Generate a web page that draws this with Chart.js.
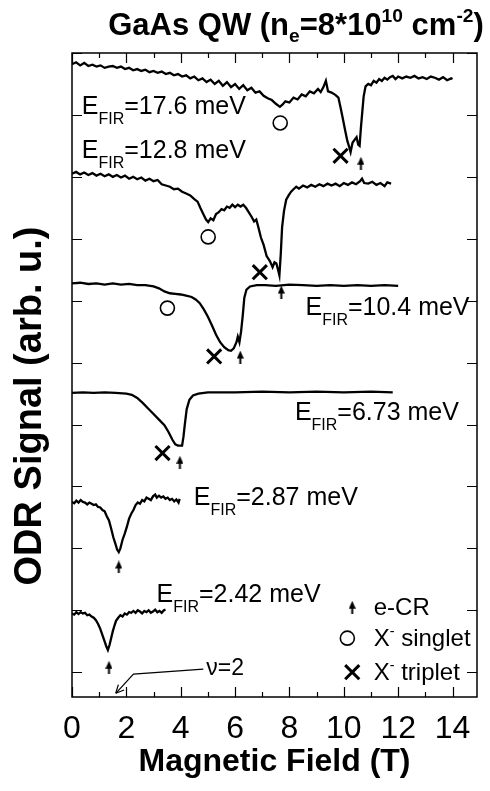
<!doctype html>
<html><head><meta charset="utf-8">
<script src="https://cdn.jsdelivr.net/npm/chart.js@4.4.1/dist/chart.umd.min.js"></script>
<style>html,body{margin:0;background:#fff}</style>
</head><body>
<canvas id="c" width="490" height="791"></canvas>
<script>
// ODR traces, one pair of arrays per FIR energy (field in T, signal in arb. u. with offsets)
const fieldA = [0.00,0.15,0.30,0.45,0.60,0.75,0.90,1.05,1.20,1.35,1.50,1.65,1.80,1.95,2.10,2.25,2.40,2.55,2.70,2.85,3.00,3.15,3.30,3.45,3.60,3.75,3.90,4.05,4.20,4.35,4.50,4.65,4.80,4.95,5.10,5.25,5.40,5.55,5.70,5.85,6.00,6.15,6.30,6.45,6.60,6.75,6.90,7.05,7.20,7.35,7.50,7.65,7.75,7.85,8.00,8.15,8.30,8.45,8.60,8.75,8.90,9.05,9.15,9.25,9.34,9.42,9.55,9.70,9.80,9.88,9.95,10.05,10.13,10.20,10.25,10.32,10.40,10.47,10.53,10.58,10.63,10.68,10.73,10.80,10.90,11.00,11.10,11.20,11.30,11.40,11.50,11.60,11.70,11.80,11.90,12.00,12.15,12.30,12.45,12.60,12.75,12.90,13.05,13.20,13.35,13.50,13.65,13.80,13.95,14.00];
const odrA   = [9.82,9.85,9.80,9.84,9.79,9.81,9.78,9.80,9.76,9.78,9.79,9.76,9.78,9.74,9.76,9.72,9.74,9.71,9.73,9.69,9.71,9.68,9.70,9.66,9.68,9.64,9.66,9.62,9.64,9.59,9.62,9.56,9.59,9.53,9.57,9.50,9.55,9.47,9.53,9.45,9.50,9.42,9.48,9.40,9.44,9.36,9.38,9.31,9.27,9.24,9.18,9.13,9.17,9.22,9.20,9.28,9.25,9.33,9.30,9.38,9.35,9.42,9.37,9.45,9.55,9.38,9.36,9.32,9.28,9.12,8.97,8.75,8.58,8.48,8.40,8.55,8.60,8.64,8.52,8.50,8.80,9.05,9.30,9.46,9.50,9.48,9.55,9.52,9.58,9.55,9.60,9.57,9.61,9.63,9.58,9.62,9.59,9.62,9.60,9.63,9.59,9.61,9.58,9.62,9.60,9.57,9.61,9.56,9.59,9.58];

const fieldB = [0.00,0.15,0.30,0.45,0.60,0.75,0.90,1.05,1.20,1.35,1.50,1.65,1.80,1.95,2.10,2.25,2.40,2.55,2.70,2.85,3.00,3.15,3.30,3.45,3.60,3.75,3.90,4.05,4.20,4.35,4.50,4.62,4.72,4.83,4.93,5.01,5.10,5.20,5.30,5.40,5.50,5.60,5.70,5.80,5.90,6.00,6.10,6.20,6.30,6.40,6.50,6.60,6.70,6.78,6.86,6.95,7.05,7.16,7.28,7.38,7.45,7.52,7.58,7.63,7.68,7.73,7.80,7.88,7.97,8.06,8.15,8.25,8.35,8.50,8.65,8.80,8.95,9.10,9.25,9.40,9.55,9.70,9.85,10.00,10.15,10.30,10.45,10.60,10.67,10.75,10.90,11.05,11.20,11.35,11.50,11.60,11.74];
const odrB   = [8.05,8.08,8.04,8.07,8.03,8.06,8.02,8.05,8.01,8.04,8.00,8.03,7.99,8.02,7.97,8.00,7.96,7.99,7.94,7.97,7.93,7.95,7.88,7.86,7.84,7.80,7.81,7.76,7.73,7.70,7.64,7.60,7.50,7.40,7.31,7.27,7.33,7.30,7.40,7.43,7.48,7.46,7.52,7.50,7.55,7.51,7.55,7.52,7.55,7.50,7.43,7.36,7.28,7.31,7.18,7.02,6.90,6.72,6.64,6.54,6.62,6.60,6.50,6.41,6.75,7.19,7.45,7.63,7.70,7.76,7.80,7.84,7.81,7.86,7.83,7.87,7.84,7.88,7.85,7.89,7.86,7.89,7.85,7.90,7.87,7.91,7.88,7.93,7.97,7.90,7.89,7.92,7.87,7.90,7.85,7.91,7.89];

const fieldC = [0.00,0.30,0.60,0.90,1.20,1.50,1.80,2.10,2.40,2.70,3.00,3.20,3.40,3.60,3.80,4.00,4.20,4.40,4.55,4.70,4.85,5.00,5.15,5.30,5.45,5.60,5.75,5.85,5.95,6.05,6.10,6.16,6.22,6.28,6.34,6.42,6.55,6.80,7.10,7.50,8.00,8.50,9.00,9.50,10.00,10.50,11.00,11.50,12.00];
const odrC   = [6.28,6.29,6.27,6.28,6.26,6.28,6.26,6.27,6.25,6.25,6.23,6.20,6.15,6.12,6.11,6.10,6.08,6.06,6.02,5.96,5.86,5.74,5.60,5.45,5.33,5.25,5.20,5.19,5.23,5.33,5.42,5.33,5.50,5.75,6.05,6.18,6.23,6.25,6.25,6.24,6.26,6.25,6.24,6.25,6.24,6.25,6.24,6.25,6.24];

const fieldD = [0.00,0.40,0.80,1.20,1.60,2.00,2.20,2.40,2.60,2.80,3.00,3.20,3.40,3.55,3.70,3.80,3.90,4.05,4.10,4.15,4.22,4.32,4.45,4.65,5.00,6.00,7.00,8.00,9.00,10.00,11.00,11.80];
const odrD   = [4.51,4.52,4.51,4.52,4.51,4.50,4.48,4.43,4.35,4.26,4.17,4.08,3.99,3.88,3.75,3.68,3.66,3.66,3.80,4.00,4.25,4.40,4.47,4.50,4.52,4.52,4.53,4.52,4.53,4.52,4.53,4.52];

const fieldE = [0.00,0.08,0.16,0.24,0.32,0.40,0.48,0.56,0.64,0.72,0.80,0.88,0.96,1.04,1.12,1.20,1.28,1.36,1.44,1.52,1.60,1.66,1.72,1.78,1.86,1.94,2.02,2.10,2.18,2.26,2.34,2.42,2.50,2.58,2.66,2.74,2.82,2.90,2.98,3.06,3.12,3.20,3.28,3.36,3.44,3.52,3.60,3.68,3.76,3.84,3.92,3.96];
const odrE   = [2.75,2.73,2.77,2.74,2.78,2.75,2.74,2.71,2.74,2.72,2.70,2.71,2.67,2.66,2.62,2.60,2.52,2.45,2.32,2.18,2.07,1.98,1.94,2.00,2.14,2.24,2.35,2.48,2.56,2.62,2.70,2.74,2.72,2.78,2.76,2.82,2.80,2.78,2.84,2.87,2.82,2.85,2.82,2.84,2.80,2.82,2.78,2.80,2.76,2.79,2.74,2.80];

const fieldF = [0.00,0.08,0.16,0.24,0.32,0.40,0.48,0.56,0.64,0.72,0.80,0.88,0.96,1.04,1.12,1.20,1.26,1.32,1.38,1.44,1.50,1.56,1.62,1.70,1.78,1.86,1.94,2.02,2.10,2.18,2.26,2.34,2.42,2.50,2.58,2.66,2.74,2.82,2.90,2.98,3.06,3.14,3.22,3.30,3.38,3.44];
const odrF   = [0.95,0.93,0.97,0.94,0.97,0.95,0.96,0.92,0.93,0.90,0.88,0.84,0.78,0.70,0.60,0.50,0.42,0.36,0.44,0.55,0.66,0.75,0.83,0.88,0.92,0.90,0.95,0.93,0.97,0.96,0.99,0.96,1.00,0.98,0.95,0.99,0.97,1.00,0.96,0.98,1.01,0.97,0.99,0.96,1.00,1.01];

// resonance marks
const crField = [10.63, 7.70, 6.19, 3.97, 1.72, 1.36];
const crOdr   = [8.22, 6.14, 5.09, 3.39, 1.70, 0.08];
const singletField = [7.66, 5.01, 3.51];
const singletOdr   = [8.87, 7.03, 5.88];
const tripletField = [9.88, 6.91, 5.23, 3.33];
const tripletOdr   = [8.34, 6.46, 5.10, 3.54];

// trace labels (FIR energy, meV) and where their left/baseline sits in data units
const firEnergies = ['17.6', '12.8', '10.4', '6.73', '2.87', '2.42'];
const firLabelField = [0.36, 0.36, 8.59, 8.20, 4.48, 3.11];
const firLabelOdr   = [9.01, 8.30, 5.77, 4.07, 2.70, 1.13];

const legendItems = ['e-CR', 'X- singlet', 'X- triplet'];

const FONT = '"Liberation Sans", Arial, Helvetica, sans-serif';
const pts = (xs, ys) => xs.map((x, i) => ({ x, y: ys[i] }));

function arrowGlyph() {
  const c = document.createElement('canvas');
  c.width = 7; c.height = 13;
  const g = c.getContext('2d');
  g.fillStyle = '#000';
  g.beginPath(); g.moveTo(3.5, 0); g.lineTo(7, 8); g.lineTo(0, 8); g.closePath(); g.fill();
  g.fillRect(2.5, 6, 2, 7);
  return c;
}
const ARROW = arrowGlyph();

// text with sub/superscript pieces; segs = [[text, kind]]
function drawRich(ctx, segs, x, y, size, weight, align, o) {
  o = Object.assign({ scale: 0.65, sub: 0.42, sup: -0.45 }, o || {});
  let w = 0;
  const parts = segs.map(([t, k]) => {
    const s = k ? size * o.scale : size;
    ctx.font = `${weight} ${s}px ${FONT}`;
    const p = { t, s, dy: k === 'sub' ? size * o.sub : k === 'sup' ? size * o.sup : 0, x: w };
    w += ctx.measureText(t).width;
    return p;
  });
  const x0 = align === 'center' ? x - w / 2 : x;
  ctx.textAlign = 'left';
  ctx.textBaseline = 'alphabetic';
  for (const p of parts) {
    ctx.font = `${weight} ${p.s}px ${FONT}`;
    ctx.fillText(p.t, x0 + p.x, y + p.dy);
  }
  return w;
}

const decor = {
  id: 'decor',
  afterDraw(chart) {
    const { ctx, chartArea: a, scales: { x, y } } = chart;
    ctx.save();
    ctx.strokeStyle = '#000';
    ctx.fillStyle = '#000';
    // frame
    ctx.lineWidth = 1.5;
    ctx.strokeRect(a.left, a.top, a.right - a.left, a.bottom - a.top);
    // inward ticks
    ctx.lineWidth = 1.2;
    ctx.beginPath();
    for (let v = 0; v <= 14; v++) {
      const px = Math.round(x.getPixelForValue(v)) + 0.5;
      const len = v % 2 === 0 ? 10 : 5;
      ctx.moveTo(px, a.bottom); ctx.lineTo(px, a.bottom - len);
      ctx.moveTo(px, a.top); ctx.lineTo(px, a.top + len);
    }
    for (let v = 0; v <= 10; v++) {
      const py = Math.round(y.getPixelForValue(v)) + 0.5;
      ctx.moveTo(a.left, py); ctx.lineTo(a.left + 10, py);
      ctx.moveTo(a.right, py); ctx.lineTo(a.right - 10, py);
    }
    ctx.stroke();

    // trace labels
    firEnergies.forEach((e, i) => {
      drawRich(ctx, [['E'], ['FIR', 'sub'], ['=' + e + ' meV']],
        x.getPixelForValue(firLabelField[i]), y.getPixelForValue(firLabelOdr[i]), 25, 'normal', 'left',
        { scale: 0.64, sub: 0.4 });
    });

    // legend
    const lx = x.getPixelForValue(11.1);
    drawRich(ctx, [[legendItems[0]]], lx, y.getPixelForValue(1.05) + 8, 24, 'normal', 'left');
    const [s1, s2] = legendItems[1].split('- ');
    drawRich(ctx, [[s1], ['-', 'sup'], [' ' + s2]], lx, y.getPixelForValue(0.55) + 8, 24, 'normal', 'left', { scale: 0.6, sup: -0.42 });
    const [t1, t2] = legendItems[2].split('- ');
    drawRich(ctx, [[t1], ['-', 'sup'], [' ' + t2]], lx, y.getPixelForValue(0.0) + 8, 24, 'normal', 'left', { scale: 0.6, sup: -0.42 });

    // nu = 2 pointer
    ctx.lineWidth = 1.2;
    const p0 = [x.getPixelForValue(4.83), y.getPixelForValue(0.05)];
    const p1 = [x.getPixelForValue(2.26), y.getPixelForValue(-0.03)];
    const p2 = [x.getPixelForValue(1.61), y.getPixelForValue(-0.34)];
    ctx.beginPath(); ctx.moveTo(...p0); ctx.lineTo(...p1); ctx.lineTo(...p2); ctx.stroke();
    const ang = Math.atan2(p2[1] - p1[1], p2[0] - p1[0]);
    ctx.beginPath();
    for (const d of [-0.45, 0.45]) {
      ctx.moveTo(...p2);
      ctx.lineTo(p2[0] - 9 * Math.cos(ang + d), p2[1] - 9 * Math.sin(ang + d));
    }
    ctx.stroke();
    ctx.font = `23px ${FONT}`;
    ctx.textBaseline = 'middle';
    ctx.textAlign = 'left';
    ctx.fillText('\u03bd=2', x.getPixelForValue(4.94), y.getPixelForValue(0.05));

    // titles
    drawRich(ctx, [['GaAs QW (n'], ['e', 'sub'], ['=8*10'], ['10', 'sup'], [' cm'], ['-2', 'sup'], [')']],
      296, 35, 31, 'bold', 'center', { scale: 0.62, sub: 0.22, sup: -0.42 });
    ctx.font = `bold 32px ${FONT}`;
    ctx.textAlign = 'center';
    ctx.textBaseline = 'middle';
    ctx.fillText('Magnetic Field (T)', (a.left + a.right) / 2, 762);
    ctx.translate(31, 406);
    ctx.rotate(-Math.PI / 2);
    ctx.font = `bold 38px ${FONT}`;
    ctx.fillText('ODR Signal (arb. u.)', 0, 0);
    ctx.restore();
  }
};

const trace = (xs, ys) => ({ data: pts(xs, ys), showLine: true, borderColor: '#000', borderWidth: 2.3, pointRadius: 0, tension: 0 });

new Chart(document.getElementById('c'), {
  type: 'scatter',
  data: {
    datasets: [
      { data: pts(crField, crOdr), pointStyle: ARROW, pointRadius: 6 },
      { data: pts(singletField, singletOdr), pointStyle: 'circle', pointRadius: 7, borderColor: '#000', backgroundColor: 'rgba(0,0,0,0)', borderWidth: 1.6 },
      { data: pts(tripletField, tripletOdr), pointStyle: 'crossRot', pointRadius: 10, borderColor: '#000', borderWidth: 3 },
      // legend symbols
      { data: [{ x: 10.31, y: 1.05 }], pointStyle: ARROW, pointRadius: 6 },
      { data: [{ x: 10.13, y: 0.55 }], pointStyle: 'circle', pointRadius: 7, borderColor: '#000', backgroundColor: 'rgba(0,0,0,0)', borderWidth: 1.6 },
      { data: [{ x: 10.31, y: 0.0 }], pointStyle: 'crossRot', pointRadius: 10, borderColor: '#000', borderWidth: 3 },
      trace(fieldA, odrA),
      trace(fieldB, odrB),
      trace(fieldC, odrC),
      trace(fieldD, odrD),
      trace(fieldE, odrE),
      trace(fieldF, odrF),
    ]
  },
  options: {
    responsive: false,
    animation: false,
    events: [],
    plugins: { legend: { display: false }, tooltip: { enabled: false } },
    layout: { padding: { top: 53, right: 1, left: 0, bottom: 0 } },
    scales: {
      x: {
        type: 'linear', min: 0, max: 14.9,
        afterFit: s => { s.height = 94; },
        grid: { display: false, drawTicks: false },
        border: { display: false },
        ticks: { stepSize: 2, includeBounds: false, autoSkip: false, maxRotation: 0, padding: 13, color: '#000', font: { family: FONT, size: 32 } }
      },
      y: {
        type: 'linear', min: -0.4, max: 10,
        afterFit: s => { s.width = 72; },
        grid: { display: false, drawTicks: false },
        border: { display: false },
        ticks: { display: false, stepSize: 1 }
      }
    }
  },
  plugins: [decor]
});
</script>
</body></html>
